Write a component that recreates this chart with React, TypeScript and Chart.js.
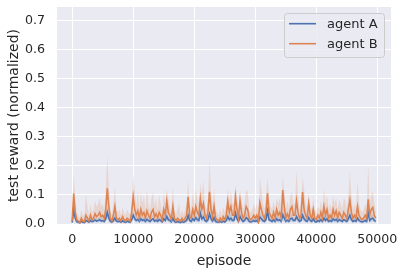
import React, { useEffect, useRef } from "react";
import { Chart, registerables } from "chart.js";

Chart.register(...registerables);

const episodes = [
  0, 250, 500, 750, 1000, 1250, 1500, 1750, 2000, 2250,
  2500, 2750, 3000, 3250, 3500, 3750, 4000, 4250, 4500, 4750,
  5000, 5250, 5500, 5750, 6000, 6250, 6500, 6750, 7000, 7250,
  7500, 7750, 8000, 8250, 8500, 8750, 9000, 9250, 9500, 9750,
  10000, 10250, 10500, 10750, 11000, 11250, 11500, 11750, 12000, 12250,
  12500, 12750, 13000, 13250, 13500, 13750, 14000, 14250, 14500, 14750,
  15000, 15250, 15500, 15750, 16000, 16250, 16500, 16750, 17000, 17250,
  17500, 17750, 18000, 18250, 18500, 18750, 19000, 19250, 19500, 19750,
  20000, 20250, 20500, 20750, 21000, 21250, 21500, 21750, 22000, 22250,
  22500, 22750, 23000, 23250, 23500, 23750, 24000, 24250, 24500, 24750,
  25000, 25250, 25500, 25750, 26000, 26250, 26500, 26750, 27000, 27250,
  27500, 27750, 28000, 28250, 28500, 28750, 29000, 29250, 29500, 29750,
  30000, 30250, 30500, 30750, 31000, 31250, 31500, 31750, 32000, 32250,
  32500, 32750, 33000, 33250, 33500, 33750, 34000, 34250, 34500, 34750,
  35000, 35250, 35500, 35750, 36000, 36250, 36500, 36750, 37000, 37250,
  37500, 37750, 38000, 38250, 38500, 38750, 39000, 39250, 39500, 39750,
  40000, 40250, 40500, 40750, 41000, 41250, 41500, 41750, 42000, 42250,
  42500, 42750, 43000, 43250, 43500, 43750, 44000, 44250, 44500, 44750,
  45000, 45250, 45500, 45750, 46000, 46250, 46500, 46750, 47000, 47250,
  47500, 47750, 48000, 48250, 48500, 48750, 49000, 49250, 49500, 49750,
];

const agentBMean = [
  0.010, 0.105, 0.040, 0.015, 0.010, 0.005, 0.020, 0.010, 0.008, 0.030,
  0.020, 0.010, 0.030, 0.015, 0.020, 0.035, 0.025, 0.030, 0.040, 0.025,
  0.030, 0.020, 0.050, 0.123, 0.060, 0.020, 0.010, 0.030, 0.060, 0.020,
  0.015, 0.020, 0.010, 0.025, 0.015, 0.010, 0.020, 0.015, 0.010, 0.040,
  0.094, 0.050, 0.030, 0.045, 0.020, 0.050, 0.030, 0.040, 0.020, 0.045,
  0.030, 0.020, 0.040, 0.050, 0.025, 0.035, 0.020, 0.040, 0.030, 0.015,
  0.050, 0.030, 0.080, 0.040, 0.030, 0.015, 0.060, 0.020, 0.010, 0.020,
  0.015, 0.010, 0.020, 0.010, 0.020, 0.030, 0.094, 0.030, 0.020, 0.050,
  0.030, 0.060, 0.040, 0.030, 0.088, 0.050, 0.070, 0.030, 0.020, 0.040,
  0.111, 0.050, 0.025, 0.060, 0.020, 0.015, 0.010, 0.020, 0.010, 0.025,
  0.015, 0.030, 0.077, 0.040, 0.060, 0.030, 0.030, 0.094, 0.050, 0.020,
  0.080, 0.040, 0.020, 0.030, 0.060, 0.050, 0.020, 0.015, 0.020, 0.030,
  0.020, 0.030, 0.010, 0.073, 0.050, 0.030, 0.020, 0.040, 0.106, 0.040,
  0.030, 0.020, 0.040, 0.020, 0.050, 0.030, 0.040, 0.020, 0.117, 0.060,
  0.020, 0.035, 0.020, 0.050, 0.060, 0.030, 0.030, 0.080, 0.040, 0.020,
  0.030, 0.110, 0.050, 0.030, 0.020, 0.070, 0.030, 0.020, 0.050, 0.020,
  0.015, 0.030, 0.020, 0.040, 0.020, 0.060, 0.030, 0.050, 0.020, 0.030,
  0.020, 0.050, 0.030, 0.045, 0.020, 0.040, 0.030, 0.020, 0.040, 0.030,
  0.020, 0.050, 0.083, 0.040, 0.020, 0.030, 0.020, 0.060, 0.030, 0.020,
  0.015, 0.020, 0.030, 0.020, 0.085, 0.030, 0.050, 0.057, 0.030, 0.020,
];

const agentBHigh = [
  0.020, 0.170, 0.090, 0.040, 0.030, 0.020, 0.050, 0.030, 0.030, 0.105,
  0.060, 0.030, 0.070, 0.040, 0.050, 0.080, 0.060, 0.070, 0.090, 0.060,
  0.070, 0.050, 0.110, 0.235, 0.130, 0.050, 0.030, 0.070, 0.127, 0.050,
  0.040, 0.050, 0.030, 0.060, 0.040, 0.030, 0.050, 0.040, 0.030, 0.080,
  0.175, 0.120, 0.060, 0.120, 0.050, 0.110, 0.070, 0.100, 0.050, 0.120,
  0.070, 0.050, 0.090, 0.110, 0.060, 0.090, 0.050, 0.100, 0.070, 0.040,
  0.110, 0.070, 0.120, 0.090, 0.060, 0.040, 0.130, 0.050, 0.030, 0.050,
  0.070, 0.030, 0.050, 0.030, 0.050, 0.070, 0.150, 0.070, 0.050, 0.110,
  0.070, 0.120, 0.090, 0.070, 0.140, 0.100, 0.150, 0.070, 0.050, 0.090,
  0.220, 0.110, 0.060, 0.127, 0.050, 0.040, 0.030, 0.050, 0.030, 0.060,
  0.040, 0.070, 0.125, 0.080, 0.115, 0.070, 0.070, 0.135, 0.100, 0.050,
  0.120, 0.080, 0.050, 0.070, 0.120, 0.110, 0.050, 0.040, 0.050, 0.070,
  0.050, 0.070, 0.030, 0.165, 0.120, 0.070, 0.050, 0.090, 0.160, 0.090,
  0.060, 0.050, 0.080, 0.050, 0.090, 0.070, 0.090, 0.050, 0.165, 0.110,
  0.050, 0.080, 0.050, 0.100, 0.110, 0.070, 0.070, 0.185, 0.100, 0.050,
  0.080, 0.160, 0.120, 0.070, 0.050, 0.110, 0.070, 0.050, 0.090, 0.050,
  0.040, 0.060, 0.050, 0.080, 0.050, 0.120, 0.070, 0.100, 0.050, 0.070,
  0.050, 0.100, 0.070, 0.090, 0.050, 0.085, 0.070, 0.050, 0.090, 0.080,
  0.050, 0.100, 0.180, 0.100, 0.050, 0.070, 0.050, 0.150, 0.070, 0.050,
  0.040, 0.050, 0.070, 0.050, 0.205, 0.070, 0.100, 0.115, 0.070, 0.050,
];

const agentBLow = [
  0.004, 0.050, 0.012, 0.005, 0.004, 0.002, 0.006, 0.004, 0.002, 0.006,
  0.006, 0.004, 0.010, 0.005, 0.007, 0.012, 0.008, 0.010, 0.014, 0.008,
  0.010, 0.006, 0.018, 0.040, 0.020, 0.007, 0.004, 0.010, 0.018, 0.006,
  0.005, 0.007, 0.004, 0.008, 0.005, 0.004, 0.007, 0.005, 0.004, 0.012,
  0.035, 0.018, 0.010, 0.015, 0.006, 0.017, 0.010, 0.013, 0.006, 0.015,
  0.010, 0.006, 0.013, 0.017, 0.008, 0.012, 0.006, 0.013, 0.010, 0.005,
  0.017, 0.010, 0.030, 0.013, 0.010, 0.005, 0.020, 0.006, 0.004, 0.006,
  0.005, 0.004, 0.006, 0.004, 0.006, 0.010, 0.035, 0.010, 0.006, 0.017,
  0.010, 0.020, 0.013, 0.010, 0.030, 0.017, 0.024, 0.010, 0.006, 0.013,
  0.035, 0.017, 0.008, 0.020, 0.006, 0.005, 0.004, 0.006, 0.004, 0.008,
  0.005, 0.010, 0.027, 0.013, 0.020, 0.010, 0.010, 0.035, 0.017, 0.006,
  0.028, 0.013, 0.006, 0.010, 0.020, 0.017, 0.006, 0.005, 0.006, 0.010,
  0.006, 0.010, 0.004, 0.022, 0.017, 0.010, 0.006, 0.013, 0.040, 0.013,
  0.010, 0.006, 0.013, 0.006, 0.017, 0.010, 0.013, 0.006, 0.045, 0.020,
  0.006, 0.012, 0.006, 0.017, 0.020, 0.010, 0.010, 0.025, 0.013, 0.006,
  0.010, 0.040, 0.017, 0.010, 0.006, 0.024, 0.010, 0.006, 0.017, 0.006,
  0.005, 0.010, 0.006, 0.013, 0.006, 0.020, 0.010, 0.017, 0.006, 0.010,
  0.006, 0.017, 0.010, 0.015, 0.006, 0.013, 0.010, 0.006, 0.013, 0.010,
  0.006, 0.017, 0.028, 0.013, 0.006, 0.010, 0.006, 0.020, 0.010, 0.006,
  0.005, 0.006, 0.010, 0.006, 0.025, 0.010, 0.017, 0.020, 0.010, 0.006,
];

const agentAMean = [
  0.005, 0.050, 0.020, 0.008, 0.006, 0.004, 0.010, 0.006, 0.005, 0.012,
  0.010, 0.006, 0.012, 0.008, 0.010, 0.014, 0.010, 0.012, 0.015, 0.010,
  0.012, 0.009, 0.018, 0.040, 0.020, 0.010, 0.006, 0.012, 0.020, 0.010,
  0.008, 0.010, 0.006, 0.011, 0.008, 0.006, 0.010, 0.008, 0.006, 0.015,
  0.030, 0.018, 0.012, 0.016, 0.009, 0.018, 0.012, 0.015, 0.009, 0.016,
  0.012, 0.009, 0.015, 0.018, 0.010, 0.013, 0.009, 0.015, 0.012, 0.007,
  0.018, 0.012, 0.026, 0.015, 0.012, 0.007, 0.020, 0.009, 0.006, 0.009,
  0.007, 0.005, 0.009, 0.006, 0.009, 0.012, 0.030, 0.012, 0.009, 0.018,
  0.012, 0.022, 0.015, 0.012, 0.037, 0.018, 0.024, 0.012, 0.009, 0.015,
  0.035, 0.018, 0.010, 0.022, 0.009, 0.007, 0.006, 0.009, 0.006, 0.010,
  0.007, 0.012, 0.025, 0.015, 0.020, 0.012, 0.012, 0.037, 0.018, 0.009,
  0.026, 0.015, 0.009, 0.012, 0.022, 0.018, 0.009, 0.007, 0.009, 0.012,
  0.009, 0.012, 0.006, 0.024, 0.018, 0.012, 0.009, 0.015, 0.045, 0.015,
  0.012, 0.009, 0.015, 0.009, 0.018, 0.012, 0.015, 0.009, 0.032, 0.020,
  0.009, 0.013, 0.009, 0.018, 0.020, 0.012, 0.012, 0.025, 0.015, 0.009,
  0.012, 0.030, 0.018, 0.012, 0.009, 0.022, 0.012, 0.009, 0.018, 0.009,
  0.007, 0.012, 0.009, 0.015, 0.009, 0.020, 0.012, 0.018, 0.009, 0.012,
  0.009, 0.018, 0.012, 0.016, 0.009, 0.015, 0.012, 0.009, 0.015, 0.012,
  0.009, 0.018, 0.030, 0.015, 0.009, 0.012, 0.009, 0.020, 0.012, 0.009,
  0.007, 0.009, 0.012, 0.009, 0.040, 0.012, 0.018, 0.020, 0.012, 0.009,
];

const agentAHigh = [
  0.010, 0.075, 0.035, 0.015, 0.012, 0.009, 0.018, 0.012, 0.010, 0.022,
  0.018, 0.012, 0.022, 0.015, 0.018, 0.025, 0.018, 0.022, 0.027, 0.018,
  0.022, 0.016, 0.032, 0.062, 0.035, 0.018, 0.012, 0.022, 0.035, 0.018,
  0.015, 0.018, 0.012, 0.020, 0.015, 0.012, 0.018, 0.015, 0.012, 0.027,
  0.050, 0.032, 0.022, 0.028, 0.016, 0.032, 0.022, 0.027, 0.016, 0.028,
  0.022, 0.016, 0.027, 0.032, 0.018, 0.024, 0.016, 0.027, 0.022, 0.013,
  0.032, 0.022, 0.045, 0.027, 0.022, 0.013, 0.035, 0.016, 0.012, 0.016,
  0.013, 0.010, 0.016, 0.012, 0.016, 0.022, 0.050, 0.022, 0.016, 0.032,
  0.022, 0.038, 0.027, 0.022, 0.060, 0.032, 0.042, 0.022, 0.016, 0.027,
  0.058, 0.032, 0.018, 0.038, 0.016, 0.013, 0.012, 0.016, 0.012, 0.018,
  0.013, 0.022, 0.042, 0.027, 0.035, 0.022, 0.022, 0.060, 0.032, 0.016,
  0.045, 0.027, 0.016, 0.022, 0.038, 0.032, 0.016, 0.013, 0.016, 0.022,
  0.016, 0.022, 0.012, 0.042, 0.032, 0.022, 0.016, 0.027, 0.070, 0.027,
  0.022, 0.016, 0.027, 0.016, 0.032, 0.022, 0.027, 0.016, 0.055, 0.035,
  0.016, 0.024, 0.016, 0.032, 0.035, 0.022, 0.022, 0.042, 0.027, 0.016,
  0.022, 0.050, 0.032, 0.022, 0.016, 0.038, 0.022, 0.016, 0.032, 0.016,
  0.013, 0.022, 0.016, 0.027, 0.016, 0.035, 0.022, 0.032, 0.016, 0.022,
  0.016, 0.032, 0.022, 0.028, 0.016, 0.027, 0.022, 0.016, 0.027, 0.022,
  0.016, 0.032, 0.050, 0.027, 0.016, 0.022, 0.016, 0.035, 0.022, 0.016,
  0.013, 0.016, 0.022, 0.016, 0.065, 0.022, 0.032, 0.035, 0.022, 0.016,
];

const agentALow = [
  0.002, 0.028, 0.008, 0.003, 0.002, 0.001, 0.004, 0.002, 0.002, 0.005,
  0.004, 0.002, 0.005, 0.003, 0.004, 0.006, 0.004, 0.005, 0.006, 0.004,
  0.005, 0.003, 0.007, 0.020, 0.008, 0.004, 0.002, 0.005, 0.008, 0.004,
  0.003, 0.004, 0.002, 0.004, 0.003, 0.002, 0.004, 0.003, 0.002, 0.006,
  0.014, 0.007, 0.005, 0.006, 0.003, 0.007, 0.005, 0.006, 0.003, 0.006,
  0.005, 0.003, 0.006, 0.007, 0.004, 0.005, 0.003, 0.006, 0.005, 0.002,
  0.007, 0.005, 0.011, 0.006, 0.005, 0.002, 0.008, 0.003, 0.002, 0.003,
  0.002, 0.002, 0.003, 0.002, 0.003, 0.005, 0.013, 0.005, 0.003, 0.007,
  0.005, 0.009, 0.006, 0.005, 0.016, 0.007, 0.010, 0.005, 0.003, 0.006,
  0.015, 0.007, 0.004, 0.009, 0.003, 0.002, 0.002, 0.003, 0.002, 0.004,
  0.002, 0.005, 0.010, 0.006, 0.008, 0.005, 0.005, 0.016, 0.007, 0.003,
  0.011, 0.006, 0.003, 0.005, 0.009, 0.007, 0.003, 0.002, 0.003, 0.005,
  0.003, 0.005, 0.002, 0.010, 0.007, 0.005, 0.003, 0.006, 0.022, 0.006,
  0.005, 0.003, 0.006, 0.003, 0.007, 0.005, 0.006, 0.003, 0.013, 0.008,
  0.003, 0.005, 0.003, 0.007, 0.008, 0.005, 0.005, 0.010, 0.006, 0.003,
  0.005, 0.012, 0.007, 0.005, 0.003, 0.009, 0.005, 0.003, 0.007, 0.003,
  0.002, 0.005, 0.003, 0.006, 0.003, 0.008, 0.005, 0.007, 0.003, 0.005,
  0.003, 0.007, 0.005, 0.006, 0.003, 0.006, 0.005, 0.003, 0.006, 0.005,
  0.003, 0.007, 0.012, 0.006, 0.003, 0.005, 0.003, 0.008, 0.005, 0.003,
  0.002, 0.003, 0.005, 0.003, 0.017, 0.005, 0.007, 0.008, 0.005, 0.003,
];

const xTickValues = [0, 10000, 20000, 30000, 40000, 50000];
const yTickValues = [0, 0.1, 0.2, 0.3, 0.4, 0.5, 0.6, 0.7];
const seriesNames = ["agent A", "agent B"];
const xTitle = "episode";
const yTitle = "test reward (normalized)";

const BLUE = "#4C72B0";
const ORANGE = "#DD8452";
const TEXT = "#262626";
const FONT = "'DejaVu Sans', sans-serif";

const toPts = (arr: number[]) => episodes.map((e, i) => ({ x: e, y: arr[i] }));

const bgPlugin = {
  id: "bgPlugin",
  beforeDraw(chart: any) {
    const { ctx, chartArea } = chart;
    ctx.save();
    ctx.fillStyle = "#EAEAF2";
    ctx.fillRect(chartArea.left, chartArea.top, chartArea.right - chartArea.left, chartArea.bottom - chartArea.top);
    ctx.restore();
  },
};

const legendPlugin = {
  id: "customLegend",
  afterDraw(chart: any) {
    const { ctx } = chart;
    const x = 284.5, y = 13.5, w = 100, h = 44, r = 3;
    ctx.save();
    ctx.beginPath();
    ctx.moveTo(x + r, y);
    ctx.lineTo(x + w - r, y);
    ctx.arcTo(x + w, y, x + w, y + r, r);
    ctx.lineTo(x + w, y + h - r);
    ctx.arcTo(x + w, y + h, x + w - r, y + h, r);
    ctx.lineTo(x + r, y + h);
    ctx.arcTo(x, y + h, x, y + h - r, r);
    ctx.lineTo(x, y + r);
    ctx.arcTo(x, y, x + r, y, r);
    ctx.closePath();
    ctx.fillStyle = "rgba(234,234,242,0.8)";
    ctx.fill();
    ctx.strokeStyle = "#CCCCCC";
    ctx.lineWidth = 1;
    ctx.stroke();
    const colors = [BLUE, ORANGE];
    const rows = [23.7, 43.7];
    ctx.font = "13px " + FONT;
    ctx.textBaseline = "middle";
    ctx.textAlign = "left";
    seriesNames.forEach((name, i) => {
      ctx.strokeStyle = colors[i];
      ctx.lineWidth = 1.6;
      ctx.beginPath();
      ctx.moveTo(289, rows[i]);
      ctx.lineTo(316, rows[i]);
      ctx.stroke();
      ctx.fillStyle = TEXT;
      ctx.fillText(name, 327, rows[i] + 0.5);
    });
    ctx.restore();
  },
};

export default function App() {
  const ref = useRef<HTMLCanvasElement | null>(null);
  useEffect(() => {
    if (!ref.current) return;
    const chart = new Chart(ref.current, {
      type: "line",
      data: {
        datasets: [
          { label: "A hi", data: toPts(agentAHigh), borderWidth: 0, pointRadius: 0, fill: "+1", backgroundColor: "rgba(76,114,176,0.2)", order: 4 },
          { label: "A lo", data: toPts(agentALow), borderWidth: 0, pointRadius: 0, fill: false, order: 4 },
          { label: "B hi", data: toPts(agentBHigh), borderWidth: 0, pointRadius: 0, fill: "+1", backgroundColor: "rgba(221,132,82,0.2)", order: 3 },
          { label: "B lo", data: toPts(agentBLow), borderWidth: 0, pointRadius: 0, fill: false, order: 3 },
          { label: seriesNames[0], data: toPts(agentAMean), borderColor: BLUE, borderWidth: 1.6, pointRadius: 0, fill: false, order: 1 },
          { label: seriesNames[1], data: toPts(agentBMean), borderColor: ORANGE, borderWidth: 1.6, pointRadius: 0, fill: false, order: 0 },
        ],
      },
      options: {
        animation: false,
        responsive: false,
        maintainAspectRatio: false,
        layout: { padding: { top: 7, right: 13, left: 0, bottom: 0 } },
        plugins: { legend: { display: false }, tooltip: { enabled: false } },
        scales: {
          x: {
            type: "linear",
            min: -2487.5,
            max: 52237.5,
            afterBuildTicks: (scale: any) => {
              scale.ticks = xTickValues.map((v) => ({ value: v }));
            },
            afterFit: (scale: any) => {
              scale.height = 48;
              scale.paddingLeft = 0;
              scale.paddingRight = 0;
            },
            border: { display: false },
            grid: { color: "#FFFFFF", lineWidth: 1, drawTicks: false },
            ticks: {
              color: TEXT,
              padding: 8,
              maxRotation: 0,
              autoSkip: false,
              font: { family: FONT, size: 12.6 },
              callback: (v: any) => String(v),
            },
            title: { display: true, text: xTitle, color: TEXT, font: { family: FONT, size: 14 }, padding: { top: 0, bottom: 2.5 } },
          },
          y: {
            type: "linear",
            min: 0,
            max: 0.748,
            afterBuildTicks: (scale: any) => {
              scale.ticks = yTickValues.map((v) => ({ value: v }));
            },
            afterFit: (scale: any) => {
              scale.width = 57;
              scale.paddingTop = 0;
              scale.paddingBottom = 0;
            },
            border: { display: false },
            grid: { color: "#FFFFFF", lineWidth: 1, drawTicks: false },
            ticks: {
              color: TEXT,
              padding: 12,
              autoSkip: false,
              font: { family: FONT, size: 12.6 },
              callback: (v: any) => Number(v).toFixed(1),
            },
            title: { display: true, text: yTitle, color: TEXT, font: { family: FONT, size: 14 }, padding: { top: 5.5, bottom: 0 } },
          },
        },
      },
      plugins: [bgPlugin, legendPlugin],
    });
    return () => chart.destroy();
  }, []);
  return (
    <div style={{ position: "absolute", left: 0, top: 0, width: 404, height: 272 }}>
      <canvas ref={ref} width={404} height={272} style={{ width: 404, height: 272, display: "block" }} />
    </div>
  );
}
